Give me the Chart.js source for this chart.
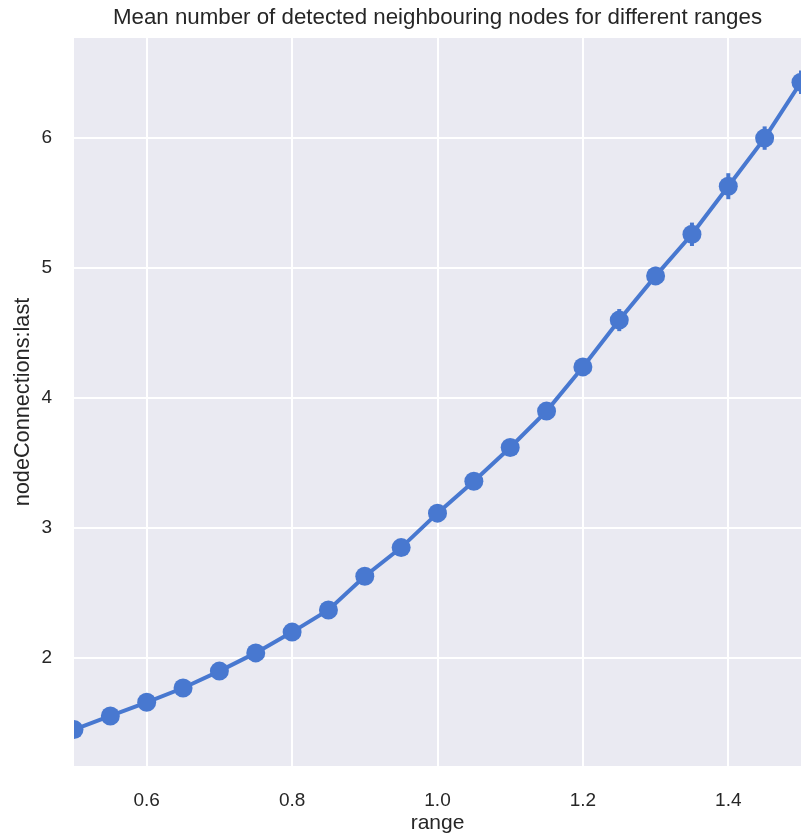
<!DOCTYPE html>
<html><head><meta charset="utf-8">
<script src="https://cdn.jsdelivr.net/npm/chart.js@4"></script>
<style>html,body{margin:0;padding:0;background:#fff}#wrap{width:801px;height:836px}</style>
</head><body><div id="wrap"><canvas id="c" width="801" height="836"></canvas></div>
<script>
const ranges = [0.5,0.55,0.6,0.65,0.7,0.75,0.8,0.85,0.9,0.95,1.0,1.05,1.1,1.15,1.2,1.25,1.3,1.35,1.4,1.45,1.5];
const meanConnections = [1.45,1.555,1.66,1.77,1.90,2.04,2.20,2.37,2.63,2.85,3.115,3.36,3.62,3.90,4.24,4.60,4.94,5.26,5.63,6.00,6.43];
const ciHalfWidth = [0.03,0.03,0.03,0.035,0.035,0.04,0.04,0.04,0.045,0.045,0.05,0.05,0.055,0.06,0.06,0.085,0.07,0.09,0.10,0.09,0.09];
const xTicks = [0.6,0.8,1.0,1.2,1.4];
const yTicks = [2,3,4,5,6];
const titleText = 'Mean number of detected neighbouring nodes for different ranges';

const FONT = '"Liberation Sans", Arial, sans-serif';
const TXT = '#262626';
const BLUE = '#4878D0';

const bgPlugin = {
  id:'bg',
  beforeDraw(chart){
    const {ctx, chartArea:a} = chart;
    ctx.save();
    ctx.fillStyle = '#EAEAF2';
    ctx.fillRect(a.left, a.top, a.right-a.left, a.bottom-a.top);
    ctx.restore();
  },
  beforeDatasetsDraw(chart){
    const {ctx, chartArea:a, scales:{x,y}} = chart;
    ctx.save();
    ctx.beginPath();
    ctx.rect(a.left, a.top, a.right-a.left, a.bottom-a.top);
    ctx.clip();
    ctx.strokeStyle = BLUE;
    ctx.lineWidth = 4;
    ranges.forEach((r,i)=>{
      const px = x.getPixelForValue(r);
      ctx.beginPath();
      ctx.moveTo(px, y.getPixelForValue(meanConnections[i]-ciHalfWidth[i]));
      ctx.lineTo(px, y.getPixelForValue(meanConnections[i]+ciHalfWidth[i]));
      ctx.stroke();
    });
    ctx.restore();
  },
  afterDraw(chart){
    const {ctx, chartArea:a} = chart;
    ctx.save();
    ctx.font = '22.3px ' + FONT;
    ctx.fillStyle = TXT;
    ctx.textAlign = 'center';
    ctx.textBaseline = 'middle';
    ctx.fillText(titleText, (a.left+a.right)/2, 18);
    ctx.restore();
  }
};

new Chart(document.getElementById('c'), {
  type:'line',
  data:{
    datasets:[{
      data: ranges.map((x,i)=>({x:x, y:meanConnections[i]})),
      borderColor:BLUE,
      backgroundColor:BLUE,
      borderWidth:4,
      pointRadius:9.5,
      pointHoverRadius:9.5,
      pointBorderWidth:0,
      tension:0,
      clip:{left:0,top:false,right:0,bottom:false}
    }]
  },
  options:{
    responsive:false,
    animation:false,
    layout:{autoPadding:false, padding:{left:0,right:0,top:38,bottom:0}},
    plugins:{legend:{display:false},title:{display:false},tooltip:{enabled:false}},
    scales:{
      x:{
        type:'linear', min:0.5, max:1.5,
        afterBuildTicks(s){ s.ticks = xTicks.map(v=>({value:v})); },
        afterFit(s){ s.height = 70; s.paddingLeft = 0; s.paddingRight = 0; },
        border:{display:false},
        grid:{color:'#ffffff', lineWidth:2, drawTicks:false},
        ticks:{color:TXT, font:{family:FONT,size:19}, padding:23, callback:v=>Number(v).toFixed(1), maxRotation:0},
        title:{display:true, text:'range', color:TXT, font:{family:FONT,size:21}, padding:{top:5,bottom:0}}
      },
      y:{
        type:'linear', min:1.17, max:6.77,
        afterBuildTicks(s){ s.ticks = yTicks.map(v=>({value:v})); },
        afterFit(s){ s.width = 74; s.paddingTop = 0; s.paddingBottom = 0; },
        border:{display:false},
        grid:{color:'#ffffff', lineWidth:2, drawTicks:false},
        ticks:{color:TXT, font:{family:FONT,size:19}, padding:22, callback:v=>String(v)},
        title:{display:true, text:'nodeConnections:last', color:TXT, font:{family:FONT,size:21.7}, padding:{top:10,bottom:0}}
      }
    }
  },
  plugins:[bgPlugin]
});
</script></body></html>
